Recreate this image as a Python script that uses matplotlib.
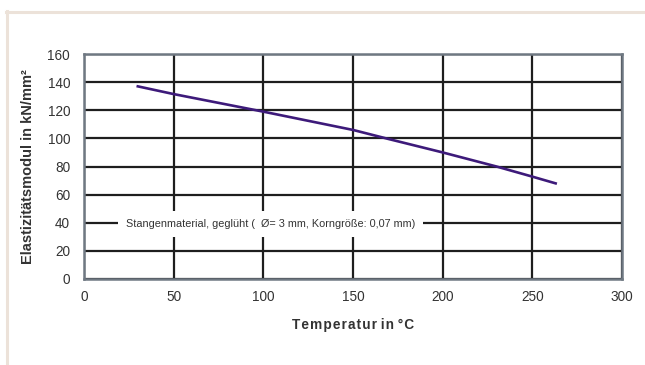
import matplotlib.pyplot as plt
from matplotlib.lines import Line2D

plt.rcParams['font.family'] = ['Liberation Sans', 'DejaVu Sans']

# Werte
temperatur = [30, 50, 100, 150, 170, 200, 230, 250, 263]
e_modul = [137, 131.5, 119, 106, 99.5, 90, 80, 72.8, 68]

x_ticks = [0, 50, 100, 150, 200, 250, 300]
y_ticks = [0, 20, 40, 60, 80, 100, 120, 140, 160]

fig = plt.figure(figsize=(6.45, 3.65), dpi=100)
ax = fig.add_axes([84 / 645, 1 - 279 / 365, 538 / 645, 225 / 365])

# beiger Rahmen links und oben
fig.add_artist(Line2D([7 / 645, 7 / 645], [0, 1 - 11 / 365], color='#ece2d9', lw=2.2, transform=fig.transFigure))
fig.add_artist(Line2D([6 / 645, 1], [1 - 12 / 365, 1 - 12 / 365], color='#ece2d9', lw=2.2, transform=fig.transFigure))

ax.plot(temperatur, e_modul, color='#3d1a7a', lw=1.9, zorder=4)

ax.set_xlim(0, 300)
ax.set_ylim(0, 160)
ax.set_xticks(x_ticks)
ax.set_yticks(y_ticks)
ax.tick_params(length=0, labelsize=9.8, labelcolor='#333333', pad=8)
ax.tick_params(axis='y', pad=10)
ax.grid(True, color='#1e1e1e', lw=1.6)
ax.set_axisbelow(True)
for s in ax.spines.values():
    s.set_color('#6f7882')
    s.set_linewidth(1.8)

ax.set_xlabel('T e m p e r a t u r   i n   ° C'.replace(' ', '\u200a').replace('\u200a\u200a\u200a', ' '),
              fontsize=9.8, fontweight='bold', color='#333333', labelpad=10)
ax.set_ylabel('Elastizitätsmodul in kN/mm²', fontsize=10.5, fontweight='bold', color='#333333', labelpad=9)

ax.text(104, 39, 'Stangenmaterial, geglüht (  Ø= 3 mm, Korngröße: 0,07 mm)',
        fontsize=7.8, color='#333333', ha='center', va='center', zorder=5,
        bbox=dict(facecolor='white', edgecolor='none', pad=6))

fig.savefig('out.png', dpi=100)
